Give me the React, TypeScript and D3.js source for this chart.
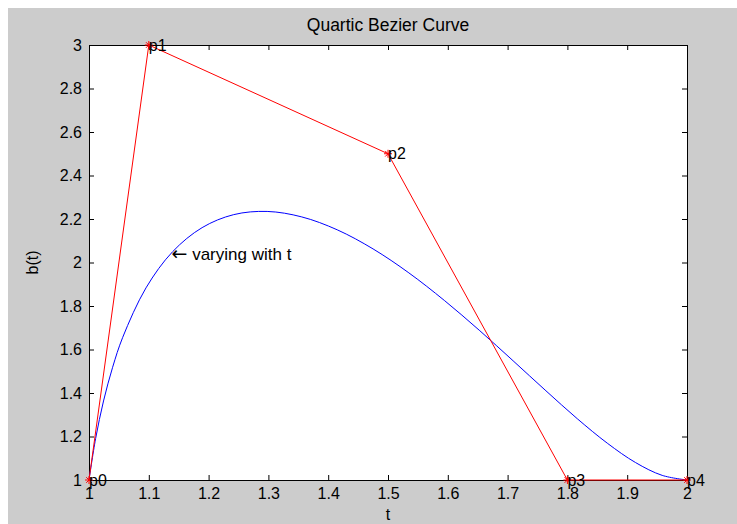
import React, { useEffect, useRef } from 'react';
import * as d3 from 'd3';

// control points of the quartic bezier
const ctrlX = [1, 1.1, 1.5, 1.8, 2];
const ctrlY = [1, 3, 2.5, 1, 1];
const ctrlLabels = ['p0', 'p1', 'p2', 'p3', 'p4'];

// blue curve
const curveX = [1, 1.0111, 1.0243, 1.0395, 1.0564, 1.0953, 1.1398, 1.1891, 1.242, 1.2979, 1.3558, 1.4151,
  1.475, 1.5349, 1.5942, 1.6525, 1.7092, 1.7641, 1.8166, 1.8667, 1.914, 1.9585, 2];
const curveY = [1, 1.1907, 1.3633, 1.5182, 1.6561, 1.8833, 2.0496, 2.1602, 2.2201, 2.2348, 2.2096, 2.1503,
  2.0625, 1.9523, 1.8256, 1.6888, 1.5481, 1.4102, 1.2816, 1.1693, 1.0801, 1.0213, 1];

const xTicks = [1, 1.1, 1.2, 1.3, 1.4, 1.5, 1.6, 1.7, 1.8, 1.9, 2];
const yTicks = [1, 1.2, 1.4, 1.6, 1.8, 2, 2.2, 2.4, 2.6, 2.8, 3];

const note = { x: 1.138, y: 2.04, arrow: '\u2190', text: ' varying with t' };

const FONT = 'Arial, "Liberation Sans", sans-serif';

function Chart() {
  const ref = useRef(null);

  useEffect(() => {
    const svg = d3.select(ref.current);
    svg.selectAll('*').remove();

    const width = 737, height = 524;
    const left = 89, right = 687, top = 45, bottom = 480;

    svg.attr('width', width).attr('height', height);

    svg.append('rect').attr('width', width).attr('height', height).attr('fill', '#fff');
    svg.append('rect').attr('x', 8).attr('y', 8).attr('width', width - 8).attr('height', height - 8).attr('fill', '#cccccc');
    svg.append('rect').attr('x', left).attr('y', top).attr('width', right - left).attr('height', bottom - top).attr('fill', '#fff');

    const x = d3.scaleLinear().domain([1, 2]).range([left, right]);
    const y = d3.scaleLinear().domain([1, 3]).range([bottom, top]);

    const fmt = (d) => String(+d.toFixed(1));

    const styleAxis = (g) => {
      g.selectAll('path, line').attr('stroke', '#000');
      g.selectAll('text').attr('fill', '#000').style('font-family', FONT).style('font-size', '16px');
    };

    svg.append('g').attr('transform', `translate(0,${bottom})`)
      .call(d3.axisBottom(x).tickValues(xTicks).tickFormat(fmt).tickSizeInner(-5).tickSizeOuter(0).tickPadding(8))
      .call(styleAxis);
    svg.append('g').attr('transform', `translate(0,${top})`)
      .call(d3.axisTop(x).tickValues(xTicks).tickFormat(() => '').tickSizeInner(-5).tickSizeOuter(0))
      .call(styleAxis);
    svg.append('g').attr('transform', `translate(${left},0)`)
      .call(d3.axisLeft(y).tickValues(yTicks).tickFormat(fmt).tickSizeInner(-5).tickSizeOuter(0).tickPadding(7))
      .call(styleAxis);
    svg.append('g').attr('transform', `translate(${right},0)`)
      .call(d3.axisRight(y).tickValues(yTicks).tickFormat(() => '').tickSizeInner(-5).tickSizeOuter(0))
      .call(styleAxis);

    const line = d3.line().x((d) => x(d[0])).y((d) => y(d[1]));

    // blue curve
    svg.append('path')
      .datum(curveX.map((v, i) => [v, curveY[i]]))
      .attr('d', line.curve(d3.curveCatmullRom))
      .attr('fill', 'none').attr('stroke', '#0000ff').attr('stroke-width', 1);

    // control polygon
    const pts = ctrlX.map((v, i) => [v, ctrlY[i]]);
    svg.append('path')
      .datum(pts)
      .attr('d', d3.line().x((d) => x(d[0])).y((d) => y(d[1])))
      .attr('fill', 'none').attr('stroke', '#ff0000').attr('stroke-width', 1);

    // '*' markers
    const m = svg.append('g').attr('stroke', '#ff0000').attr('stroke-width', 1);
    pts.forEach((p) => {
      const cx = x(p[0]), cy = y(p[1]), r = 4;
      m.append('path').attr('d',
        `M${cx - r},${cy}H${cx + r}M${cx},${cy - r}V${cy + r}` +
        `M${cx - r * 0.7},${cy - r * 0.7}L${cx + r * 0.7},${cy + r * 0.7}` +
        `M${cx - r * 0.7},${cy + r * 0.7}L${cx + r * 0.7},${cy - r * 0.7}`);
    });

    svg.append('g').selectAll('text').data(pts).enter().append('text')
      .attr('x', (d) => x(d[0]))
      .attr('y', (d) => y(d[1]))
      .attr('dy', '0.35em')
      .text((_, i) => ctrlLabels[i])
      .style('font-family', FONT).style('font-size', '16px').attr('fill', '#000');

    const nt = svg.append('text')
      .attr('x', x(note.x)).attr('y', y(note.y)).attr('dy', '0.35em')
      .style('font-family', FONT).style('font-size', '17px').attr('fill', '#000');
    nt.append('tspan').style('font-family', '"DejaVu Sans", sans-serif').style('font-size', '19px').text(note.arrow);
    nt.append('tspan').text(note.text);

    svg.append('text')
      .attr('x', (left + right) / 2).attr('y', 31)
      .attr('text-anchor', 'middle')
      .text('Quartic Bezier Curve')
      .style('font-family', FONT).style('font-size', '17.5px').attr('fill', '#000');

    svg.append('text')
      .attr('x', (left + right) / 2).attr('y', 520)
      .attr('text-anchor', 'middle')
      .text('t')
      .style('font-family', FONT).style('font-size', '16px').attr('fill', '#000');

    svg.append('text')
      .attr('transform', `translate(38,${(top + bottom) / 2}) rotate(-90)`)
      .attr('text-anchor', 'middle')
      .text('b(t)')
      .style('font-family', FONT).style('font-size', '16px').attr('fill', '#000');
  }, []);

  return <svg ref={ref} style={{ position: 'absolute', left: 0, top: 0 }}></svg>;
}

export default function App() {
  return <Chart />;
}
